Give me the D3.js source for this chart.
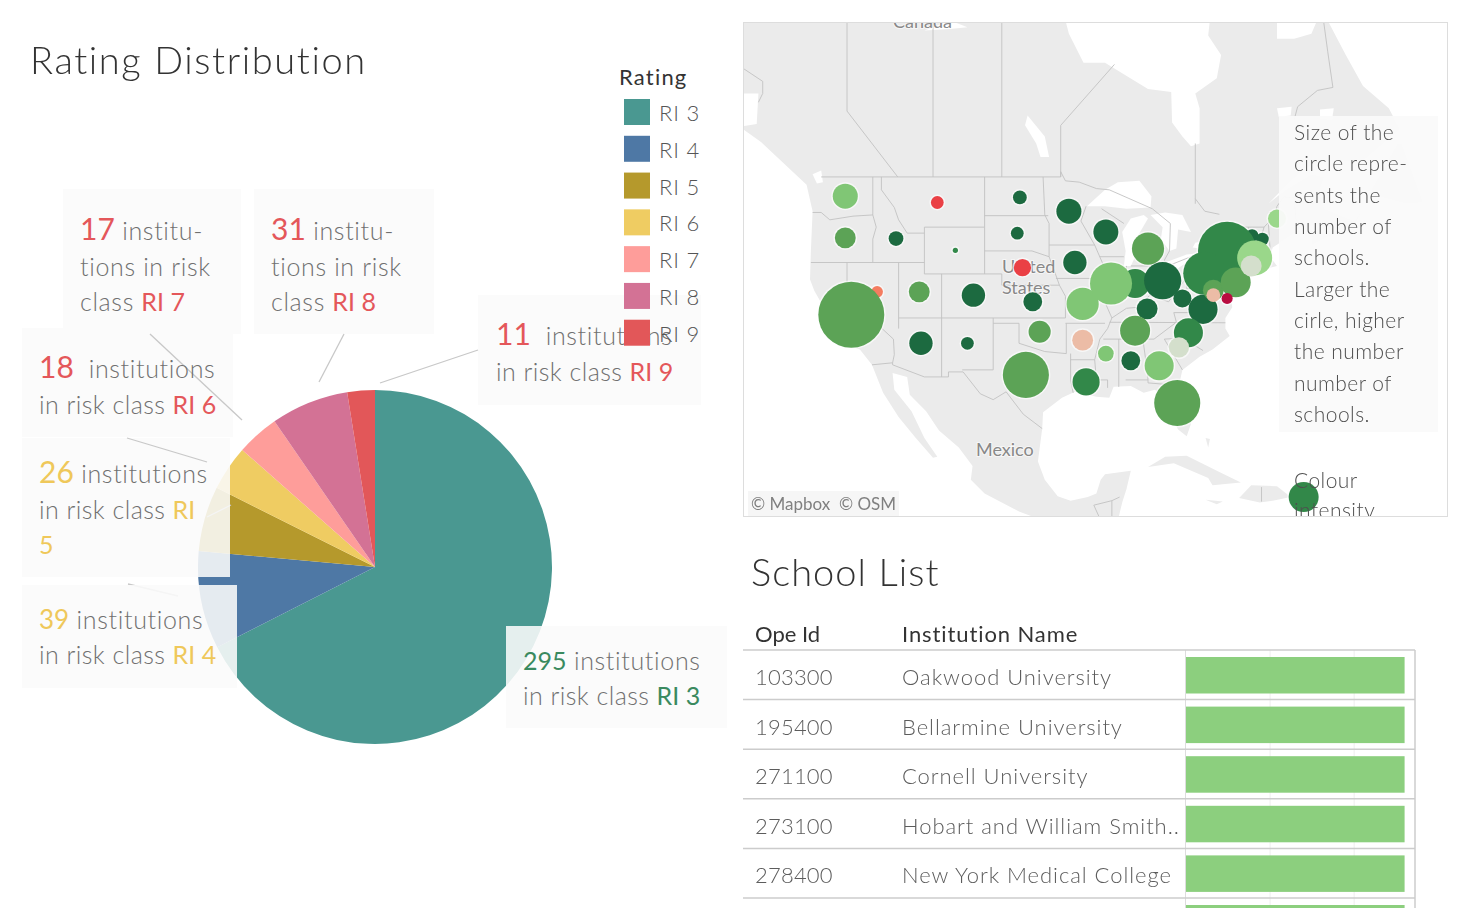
<!DOCTYPE html>
<html>
<head>
<meta charset="utf-8">
<script src="https://cdn.jsdelivr.net/npm/d3@7"></script>
<style>
  html, body { margin: 0; padding: 0; background: #fff; overflow: hidden; }
  svg { display: block; font-family: Lato, "Open Sans", sans-serif; }
  text { font-weight: 300; }
</style>
</head>
<body>
<svg id="dash" width="1472" height="908"></svg>
<script>
// pie data
const ratings = ["RI 3", "RI 4", "RI 5", "RI 6", "RI 7", "RI 8", "RI 9"];
const ratingCounts = [295, 39, 26, 18, 17, 31, 11];
const ratingColours = ["#4a9891", "#4e78a5", "#b5992c", "#efcc62", "#fe9d9a", "#d37295", "#e25759"];

// map data: state, lon, lat, number of schools, colour step (0 red .. 9 dark green)
const stateNames = ["NV","CA","WA","MT","ND","MN","WI","OR","ID","SD","WY","MI","IA","NE","CO","UT","KS","MO","IN","IL","ME","VT","NH","NY","PA","OH","WV","KY","VA","MDb","NJ","MA","CT","MD","DE","TN","NC","SC","AR","OK","MS","AL","GA","AZ","NM","TX","LA","FL","PR"];
const stateLon = [-116.5,-119.5,-120.2,-109.5,-99.9,-94.2,-89.9,-120.2,-114.3,-100.2,-107.4,-85,-93.5,-99.6,-105.3,-111.6,-98.4,-92.6,-86.5,-89.3,-70,-72.9,-71.7,-75.8,-78.4,-83.3,-81,-85.1,-78.6,-77.4,-74.8,-72.6,-73,-77.4,-75.8,-86.5,-80.3,-81.4,-92.6,-97.6,-89.9,-87,-83.7,-111.4,-106,-99.2,-92.2,-81.6,-66.9];
const stateLat = [39.4,37.3,47.5,47,47.4,46.3,44.6,44.1,44.05,44.5,43.05,43.2,42,41.55,39.1,39.4,38.5,38.3,40.15,40.15,45.7,44.3,44,43,41.05,40.4,38.8,37.85,37.8,39.55,40.25,42.4,41.7,39.1,38.8,35.8,35.6,34.2,34.9,35.7,33.6,32.9,32.4,34.6,34.6,31.5,30.8,28.65,18.6];
const stateSchools = [5,160,23,6,7,23,23,16,8,6,1,38,20,11,20,16,13,38,31,65,12,6,6,125,68,51,12,16,31,16,33,45,16,7,4.5,33,31,15,16,18,9,13,31,20,6,78,27,78,33];
const stateStep = [2,7,6,1,9,9,9,7,9,9,8,7,9,1,9,7,9,6,8,6,5,9,9,8,8,9,9,9,9,7,7,5,4,3,0,7,8,4,3,7,6,9,6,9,9,7,8,7,8];
const stepColours = ["#b8083f","#ea3f45","#f47c60","#ecbca6","#d4dfcc","#9ad78a","#80c675","#5ba357","#33884a","#1f6b40"];

// rough coastlines and borders as lon/lat
const landRings = [
  [[-136,61],[-94.8,61],[-94.8,60],[-94.2,58.8],[-92.5,57],[-90,57],[-85,55.3],[-82.3,55.1],[-82.2,53],[-81,52],[-80,51.3],[-79,51.5],[-79,54],[-79.5,55],[-77,56],[-76.5,57.5],[-78,58.7],[-77.5,61],[-70,61],[-70,58.5],[-68,58.5],[-66,58.8],[-65,60],[-64,59.5],[-62,57.5],[-60,55.5],[-57,54],[-55.7,52.5],[-58,51.3],[-60,50.2],[-65,50.2],[-67,49.5],[-69,48.3],[-71,46.9],[-69,48],[-66,49.2],[-64.5,49],[-65,48],[-64.5,46.5],[-62,45.8],[-61,45.5],[-60,46.5],[-61,45.1],[-64,44.2],[-66,43.5],[-66,44.3],[-64.5,45.3],[-67,45],[-69,44],[-70.5,43.3],[-70.8,42.5],[-70,41.7],[-71.5,41.4],[-74,40.7],[-74,39.7],[-75,38.9],[-75.5,39.5],[-75.2,38],[-76,37],[-76,36],[-75.5,35.3],[-77.5,34],[-79,33.3],[-81,32],[-81.4,30.5],[-80.5,28],[-80,26.5],[-80.5,25.2],[-81.5,25.9],[-82.7,28],[-83,29.2],[-84.2,30],[-85.5,29.7],[-87,30.4],[-89,30.3],[-89.5,29.2],[-91,29.3],[-93.5,29.8],[-95,29.2],[-97.2,27.7],[-97.3,26],[-97.8,22.5],[-97,20.5],[-95.5,18.7],[-94,18.2],[-92,18.6],[-91,19],[-90.5,20.5],[-90,21.1],[-87,21.5],[-87.5,19.5],[-88,18],[-88.5,16],[-87,15.8],[-84,15.8],[-84,14],[-92,14.5],[-94.5,16.2],[-97,15.9],[-100,17],[-104,19],[-105.6,20.5],[-105.4,22],[-107,24],[-109.3,25.8],[-110.8,27.8],[-112.7,29.5],[-113,31.3],[-114.7,31.7],[-114.5,30],[-112.5,27.8],[-111,25],[-109.5,23],[-110,22.9],[-112,25],[-114,27.2],[-115.8,29.7],[-117.1,32.5],[-118.5,34],[-120.6,34.6],[-122,37],[-123.8,39.5],[-124.3,40.5],[-124.2,43],[-124,46.3],[-124.7,48.4],[-126,49.2],[-128.3,50.6],[-130,51.6],[-132.5,52.7],[-130.5,52.9],[-130.3,55],[-132.5,55],[-133,57],[-136,59]],
  [[-85,21.9],[-83,23],[-80.5,23.1],[-77,21.5],[-74.2,20.2],[-77.5,19.9],[-78,20.7],[-82,22.3]],
  [[-74.4,18.5],[-73,19.9],[-70,19.8],[-68.4,18.6],[-70.5,18.2],[-72,18]],
  [[-78.3,18.3],[-76.3,18.1],[-77,17.8]],
  [[-67.2,18.4],[-65.7,18.4],[-65.7,18],[-67.2,18]],
  [[-78.3,25],[-77.8,24.9],[-78,24]],
  [[-59.3,47.7],[-56,51.5],[-55.5,51.5],[-53,47],[-55,46.9]]
];
const lakeRings = [
  [[-92.1,46.7],[-90,46.7],[-87.5,46.5],[-84.7,46.6],[-84.6,47.5],[-86,48.7],[-88.5,48.6],[-90,48]],
  [[-87.8,41.7],[-87,41.7],[-86.3,42.8],[-86.4,44],[-85,45.7],[-85.5,46],[-87,45.7],[-88,44.6],[-87.6,43]],
  [[-84.7,46],[-83,46.2],[-81,46],[-80,44.6],[-81.5,44.8],[-81.7,43.2],[-82.5,43],[-83.5,44],[-83.3,45]],
  [[-83.4,41.7],[-81.5,41.5],[-79,42.8],[-80.5,42.7],[-83,42]],
  [[-79.8,43.3],[-79,43.2],[-76.5,43.4],[-76.4,44],[-78,43.9],[-79.5,43.7]],
  [[-97.5,50.5],[-96.5,50.5],[-97,52],[-99,53.5],[-99.3,52.8],[-98,51.5]],
  [[-111,59],[-108,59.6],[-106,59.2],[-108,59.1]],
  [[-124,49.2],[-123,49.5],[-122.8,48.6],[-123.5,48.5]],
  [[-70,54],[-68.3,54.1],[-68.4,53.5],[-69.8,53.4]],
  [[-65,53.9],[-63.4,54],[-63.6,53.2],[-65,53.3]]
];
const borderLines = [
  [[-123,49],[-95.15,49],[-95.15,49.4],[-94.6,48.7],[-93,48.6],[-91,48.1],[-89.5,48],[-84.5,46.5],[-82.4,45.3],[-82.5,43],[-83.1,42.2],[-82.7,41.7],[-79,42.8],[-79,43.3],[-76.8,43.6],[-75,45],[-71.5,45],[-70.3,45.9],[-70,46.7],[-69.2,47.45],[-68,47.35],[-67.8,45.7],[-67,45]],
  [[-117.1,32.5],[-114.7,32.7],[-114.7,32.5],[-111,31.3],[-108.2,31.3],[-108.2,31.8],[-106.5,31.8],[-104.5,29.6],[-103,29],[-101.5,29.8],[-99.5,27.5],[-97.3,26]],
  [[-120,61],[-120,53.8],[-114.1,49]],[[-110,49],[-110,61]],[[-102,49],[-102,61]],[[-95.15,49],[-95.15,52.8],[-88.9,56.9]],[[-79.5,46.9],[-79.5,51.5]],[[-79.5,47.3],[-78.4,46.3],[-76.7,46.05]],
  [[-132.5,56.8],[-129.8,55.8],[-129.8,55],[-130.3,54.4]],[[-64.7,60],[-64.1,57.7],[-63.5,55.4],[-65.3,55.2],[-67.6,54.1],[-68,53.2]],
  [[-91.3,17.7],[-89.2,18.2],[-88.3,18.6]],[[-89.2,18.2],[-89.2,15.9]],[[-91.3,17.7],[-90.5,16]],[[-71.8,19.7],[-71.8,18.1]],
  [[-124,46.2],[-123,46.2],[-122,45.6],[-119.3,45.9],[-117,46]],[[-117,49],[-117,46],[-116.6,45],[-117,44],[-117,42]],[[-124.2,42],[-111,42]],
  [[-116,49],[-116,48],[-114.5,46.6],[-114,45.6],[-113,44.5],[-111,44.5]],[[-111,45],[-104,45],[-104,41],[-111,41],[-111,45]],[[-104,49],[-104,45]],
  [[-104,45.94],[-96.6,45.94]],[[-104,43],[-98.5,43],[-96.5,42.5]],[[-104,41],[-102,41],[-102,40],[-95.3,40]],[[-114,37],[-94.6,37]],
  [[-109,41],[-109,31.3]],[[-114,42],[-114,36]],[[-120,42],[-120,39],[-114.6,35],[-114.5,33.5],[-114.7,32.7]],[[-103,37],[-103,32],[-106.6,32]],
  [[-103,36.5],[-100,36.5],[-100,34.6],[-97,33.8],[-94.5,33.6],[-94.5,36.5]],[[-94,33.6],[-94,31],[-93.7,29.7]],[[-94,33],[-91.2,33]],[[-94.6,36.5],[-90,36.5]],
  [[-94.6,37],[-94.6,39],[-95.3,40],[-96,41.5],[-96.5,42.5],[-96.5,45.3],[-97,46],[-97.2,49]],[[-95.7,40.6],[-91.5,40.6]],[[-96.5,43.5],[-91.2,43.5]],
  [[-92.2,46.7],[-92.8,45.5],[-91.2,43.5],[-90.2,41.8],[-91.4,40.4],[-90.2,38.8],[-89.2,37],[-89.7,36],[-90.6,35],[-91.2,33],[-91,31]],[[-91.6,31],[-89.7,31],[-89.7,30.2]],
  [[-88.4,35],[-88.4,30.3]],[[-85.6,35],[-85.1,32],[-85,31]],[[-87.6,31],[-85,31],[-85,30.7],[-82.2,30.5],[-81.5,30.7]],[[-90.2,35],[-84.3,35]],[[-89.5,36.6],[-76,36.55]],
  [[-90.6,42.5],[-87.8,42.5]],[[-87.5,41.7],[-87.5,39]],[[-84.8,41.7],[-84.8,39.1]],[[-89.2,37],[-87.5,37.9],[-86,38],[-84.8,39.1],[-82.6,38.5],[-80.6,40.6]],[[-87,41.7],[-83.4,41.7]],
  [[-80.5,42],[-80.5,39.7],[-75.7,39.7]],[[-79.8,42],[-75.3,42]],[[-82,37.5],[-81.7,36.6]],[[-82,37.5],[-80,37.5],[-78,39.5]],[[-83.1,35],[-81,35.1],[-78.6,33.9]],[[-83.1,35],[-81,32]],[[-84.3,35],[-81.7,36.6]],
  [[-90.4,46.5],[-87.8,45.3]],[[-71.5,45],[-72.5,42.7]],[[-73.3,42.7],[-71,42.8]],[[-73.3,45],[-73.5,41]],[[-73.5,42],[-71.8,42]],[[-71,45.3],[-70.8,43.1]]
];

// table data
const opeIds = ["103300", "195400", "271100", "273100", "278400"];
const schoolNames = ["Oakwood University", "Bellarmine University", "Cornell University", "Hobart and William Smith..", "New York Medical College"];
const schoolValues = [2.6, 2.6, 2.6, 2.6, 2.6, 2.6];
const schoolTicks = [1, 2];

const mapNote = ["Size of the", "circle repre-", "sents the", "number of", "schools.", "Larger the", "cirle, higher", "the number", "number of", "schools."];
const RED = "#e4575a", YEL = "#efc85a", GRN = "#3a8a5f";

// each label: box [x, y, w, h], x of text, lines of [text, colour, size]
const pieLabels = [
  { box: [63, 189, 178, 145], x: 80, lines: [[240, [["17", RED, 30], [" institu-"]]], [276, [["tions in risk"]]], [311, [["class "], ["RI 7", RED, 25]]]] },
  { box: [254, 189, 180, 145], x: 271, lines: [[240, [["31", RED, 30], [" institu-"]]], [276, [["tions in risk"]]], [311, [["class "], ["RI 8", RED, 25]]]] },
  { box: [478, 295, 223, 110], x: 496, lines: [[345, [["11", RED, 30], ["  institutions"]]], [381, [["in risk class "], ["RI 9", RED, 25]]]] },
  { box: [22, 328, 211, 109], x: 39, lines: [[378, [["18", RED, 30], ["  institutions"]]], [414, [["in risk class "], ["RI 6", RED, 25]]]] },
  { box: [22, 438, 208, 139], x: 39, lines: [[483, [["26", YEL, 30], [" institutions"]]], [519, [["in risk class "], ["RI", YEL, 25]]], [554, [["5", YEL, 25]]]] },
  { box: [22, 585, 215, 103], x: 39, lines: [[629, [["39", YEL, 26], [" institutions"]]], [664, [["in risk class "], ["RI 4", YEL, 25]]]] },
  { box: [506, 626, 221, 102], x: 523, lines: [[670, [["295", GRN, 25], [" institutions"]]], [705, [["in risk class "], ["RI 3", GRN, 25]]]] }
];

const svg = d3.select("#dash");

function drawPie() {
  const pieGen = d3.pie().sort(null).value(d => d);
  const arc = d3.arc().innerRadius(0).outerRadius(177);

  svg.append("g")
    .attr("transform", "translate(375,567)")
    .selectAll("path")
    .data(pieGen(ratingCounts))
    .enter()
    .append("path")
    .attr("d", arc)
    .attr("fill", (d, i) => ratingColours[i]);

  const leader = p => svg.append("line")
    .attr("x1", p[0]).attr("y1", p[1]).attr("x2", p[2]).attr("y2", p[3])
    .attr("stroke", "#c8c8c8").attr("stroke-width", 1.3);

  // these two sit under the boxes so they look faint
  leader([207, 517, 231, 505]);
  leader([128, 584, 178, 596]);

  svg.selectAll(".label-box")
    .data(pieLabels)
    .enter()
    .append("rect")
    .attr("class", "label-box")
    .attr("x", d => d.box[0]).attr("y", d => d.box[1])
    .attr("width", d => d.box[2]).attr("height", d => d.box[3])
    .attr("fill", "#fafafa").attr("opacity", 0.88);

  leader([150, 334, 242, 420]);
  leader([344, 334, 319, 382]);
  leader([478, 350, 380, 383]);
  leader([127, 438, 207, 462]);

  pieLabels.forEach(lb => {
    lb.lines.forEach(line => {
      const t = svg.append("text")
        .attr("x", lb.x).attr("y", line[0])
        .attr("font-size", 25).attr("fill", "#707070")
        .style("white-space", "pre");
      line[1].forEach(s => {
        const spacing = s[1] ? "0" : (s[0].startsWith("in risk") ? "0.45px" : "0.65px");
        t.append("tspan")
          .text(s[0])
          .attr("font-size", s[2] || 25)
          .attr("fill", s[1] || "#707070")
          .style("letter-spacing", spacing)
          .style("font-weight", s[1] ? 400 : 300);
      });
    });
  });
}

function drawLegend() {
  const y = d3.scaleBand().domain(ratings).range([95, 352.5]);
  svg.append("text").attr("x", 619).attr("y", 85)
    .attr("font-size", 22).attr("fill", "#333").style("font-weight", 400)
    .style("letter-spacing", "1.2px").text("Rating");

  const item = svg.selectAll(".legend-item")
    .data(ratings)
    .enter()
    .append("g")
    .attr("class", "legend-item")
    .attr("transform", d => `translate(624,${y(d) + 4})`);

  item.append("rect").attr("width", 26).attr("height", 26)
    .attr("fill", (d, i) => ratingColours[i]);
  item.append("text").attr("x", 35).attr("y", 22)
    .attr("font-size", 22).attr("fill", "#555").style("letter-spacing", "0.8px").text(d => d);
}

function drawMap() {
  const mercator = d3.geoMercator().scale(490).translate([0, 659]);
  const lonX = d3.scaleLinear().domain([-120, -70]).range([847, 1277]);
  const project = d => [lonX(d[0]), mercator(d)[1]];
  const line = d3.line().x(d => project(d)[0]).y(d => project(d)[1]);

  const defs = svg.append("defs");
  defs.append("clipPath").attr("id", "map-clip")
    .append("rect").attr("x", 743).attr("y", 22).attr("width", 705).attr("height", 495);
  defs.append("filter").attr("id", "soft").append("feGaussianBlur").attr("stdDeviation", 0.6);

  const map = svg.append("g").attr("clip-path", "url(#map-clip)");

  map.append("g").attr("filter", "url(#soft)")
    .selectAll("path").data(landRings).enter().append("path")
    .attr("d", d => line(d) + "Z").attr("fill", "#ebebeb");
  map.append("g").attr("filter", "url(#soft)")
    .selectAll("path").data(lakeRings).enter().append("path")
    .attr("d", d => line(d) + "Z").attr("fill", "#fff");
  map.append("g")
    .selectAll("path").data(borderLines).enter().append("path")
    .attr("d", line).attr("fill", "none").attr("stroke", "#c2c2c2").attr("stroke-width", 0.9);

  const placeName = (txt, x, y) => map.append("text").attr("x", x).attr("y", y)
    .attr("font-size", 18).attr("fill", "#888")
    .attr("stroke", "#fff").attr("stroke-width", 2).attr("stroke-opacity", 0.6)
    .style("paint-order", "stroke").style("font-weight", 400).text(txt);
  placeName("Canada", 893, 28);
  placeName("United", 1002, 273);
  placeName("States", 1002, 294);
  placeName("Mexico", 976, 456);

  const r = d3.scaleSqrt().domain([0, 160]).range([0, 33]);
  const colour = d3.scaleOrdinal().domain(d3.range(10)).range(stepColours);
  const states = stateNames.map((s, i) => ({ s, lon: stateLon[i], lat: stateLat[i], n: stateSchools[i], step: stateStep[i] }));

  // white glow sits under all the circles so same coloured neighbours merge
  map.append("g").attr("filter", "url(#soft)")
    .selectAll("circle").data(states).enter().append("circle")
    .attr("cx", d => project([d.lon, d.lat])[0])
    .attr("cy", d => project([d.lon, d.lat])[1])
    .attr("r", d => r(d.n) + 1.5)
    .attr("fill", "#fff").attr("opacity", 0.6);

  map.append("g").attr("filter", "url(#soft)")
    .selectAll("circle").data(states).enter().append("circle")
    .attr("cx", d => project([d.lon, d.lat])[0])
    .attr("cy", d => project([d.lon, d.lat])[1])
    .attr("r", d => r(d.n))
    .attr("fill", d => colour(d.step));

  // attribution
  map.append("rect").attr("x", 748).attr("y", 491).attr("width", 151).attr("height", 25)
    .attr("fill", "#f4f4f4").attr("opacity", 0.85);
  map.append("text").attr("x", 751).attr("y", 510).attr("font-size", 17)
    .attr("fill", "#808080").style("font-weight", 400).style("white-space", "pre").text("© Mapbox  © OSM");

  // note over the map
  map.append("rect").attr("x", 1279).attr("y", 116).attr("width", 159).attr("height", 316)
    .attr("fill", "#fafafa").attr("opacity", 0.95);
  map.selectAll(".note")
    .data(mapNote)
    .enter()
    .append("text")
    .attr("class", "note")
    .attr("x", 1294).attr("y", (d, i) => 140 + i * 31.35)
    .attr("font-size", 21).attr("fill", "#4f4f4f").style("letter-spacing", "0.45px").text(d => d);
  map.append("text").attr("x", 1294).attr("y", 488).attr("font-size", 21).attr("fill", "#4f4f4f").style("letter-spacing", "0.45px").text("Colour");
  map.append("text").attr("x", 1294).attr("y", 518).attr("font-size", 21).attr("fill", "#4f4f4f").style("letter-spacing", "0.45px").text("intensity");

  svg.append("rect").attr("x", 743.5).attr("y", 22.5).attr("width", 704).attr("height", 494)
    .attr("fill", "none").attr("stroke", "#ddd");
}

function drawTable() {
  const rowY = d3.scaleLinear().domain([0, 1]).range([650, 699.6]);
  const x = d3.scaleLinear().domain([0, 2.7]).range([1186, 1413]);
  const idx = d3.range(schoolValues.length);

  svg.append("text").attr("x", 755).attr("y", 642).attr("font-size", 22)
    .attr("fill", "#333").style("font-weight", 400).text("Ope Id");
  svg.append("text").attr("x", 902).attr("y", 642).attr("font-size", 22)
    .attr("fill", "#333").style("font-weight", 400).style("letter-spacing", "0.9px").text("Institution Name");

  // grid lines
  svg.selectAll(".tick-line")
    .data(schoolTicks).enter().append("line")
    .attr("x1", d => x(d)).attr("x2", d => x(d))
    .attr("y1", 650).attr("y2", 908)
    .attr("stroke", "#eee");
  svg.append("line").attr("x1", 1185.5).attr("x2", 1185.5).attr("y1", 650).attr("y2", 908).attr("stroke", "#ddd");
  svg.append("line").attr("x1", 1415).attr("x2", 1415).attr("y1", 650).attr("y2", 908).attr("stroke", "#ccc").attr("stroke-width", 1.5);

  svg.selectAll(".bar")
    .data(schoolValues).enter().append("rect")
    .attr("class", "bar")
    .attr("x", x(0))
    .attr("y", (d, i) => rowY(i) + 7)
    .attr("width", d => x(d) - x(0))
    .attr("height", 36.5)
    .attr("fill", "#8ccf7e");

  svg.selectAll(".row-line")
    .data([0].concat(idx.slice(0, 5).map(i => i + 1))).enter().append("line")
    .attr("x1", 743).attr("x2", 1415)
    .attr("y1", d => rowY(d)).attr("y2", d => rowY(d))
    .attr("stroke", "#ccc").attr("stroke-width", 1.5);

  svg.selectAll(".ope")
    .data(opeIds).enter().append("text")
    .attr("x", 755).attr("y", (d, i) => rowY(i) + 35)
    .attr("font-size", 22).attr("fill", "#5c5c5c").style("letter-spacing", "0.2px").text(d => d);
  svg.selectAll(".school")
    .data(schoolNames).enter().append("text")
    .attr("x", 902).attr("y", (d, i) => rowY(i) + 35)
    .attr("font-size", 22).attr("fill", "#5c5c5c").style("letter-spacing", "0.95px").text(d => d);
}

drawPie();
drawLegend();
drawMap();
drawTable();

svg.append("text").attr("x", 30).attr("y", 74).attr("font-size", 38).attr("fill", "#333").style("letter-spacing", "1.6px").text("Rating Distribution");
svg.append("text").attr("x", 751).attr("y", 586).attr("font-size", 38).attr("fill", "#333").style("letter-spacing", "1.05px").text("School List");
</script>
</body>
</html>
